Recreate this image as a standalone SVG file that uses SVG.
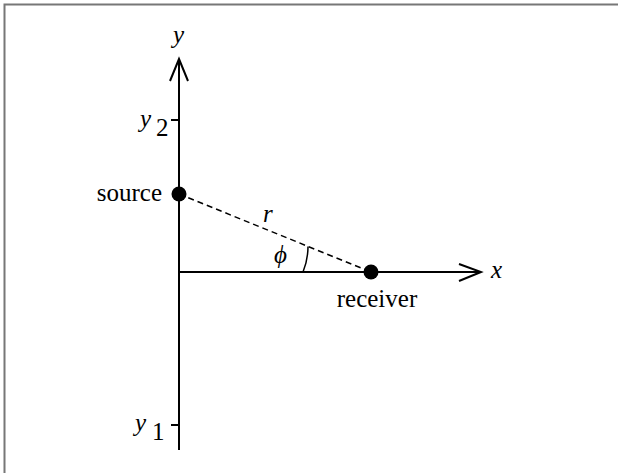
<svg xmlns="http://www.w3.org/2000/svg" width="618" height="473" viewBox="0 0 618 473">
<style>
.ax{stroke:#000;stroke-width:2;fill:none}
.t{font-family:"Liberation Serif","Times New Roman",serif;font-size:25px;fill:#000}
.i{font-style:italic}
</style>
<rect width="618" height="473" fill="#fff"/>
<path d="M4.5,473 V4.5 H618" stroke="#777" stroke-width="2" fill="none"/>
<g id="connectors">
<line class="ax" x1="179" y1="450" x2="179" y2="59"/>
<path class="ax" d="M170,81 L179,59 L188,81"/>
<line class="ax" x1="179" y1="272" x2="481" y2="272"/>
<path class="ax" d="M459,264 L481,272 L459,281"/>
<line class="ax" x1="171" y1="120" x2="179" y2="120"/>
<line class="ax" x1="171" y1="425" x2="179" y2="425"/>
<line x1="179" y1="194" x2="371" y2="272" stroke="#000" stroke-width="1.5" stroke-dasharray="6,4"/>
<path d="M308,246.5 A68,68 0 0 1 303,272" stroke="#000" stroke-width="1.5" fill="none"/>
</g>
<g id="source"><circle cx="179" cy="194" r="7.5"/><text class="t" x="162" y="201" text-anchor="end">source</text></g>
<g id="receiver"><circle cx="371" cy="272" r="7.5"/><text class="t" x="377" y="307" text-anchor="middle">receiver</text></g>
<g id="labels">
<text class="t i" x="173" y="43">y</text>
<text class="t i" x="491" y="278">x</text>
<text class="t i" x="140" y="127">y</text><text class="t" x="156" y="136">2</text>
<text class="t i" x="135" y="431">y</text><text class="t" x="152" y="440">1</text>
<text class="t i" x="263" y="222">r</text>
<text class="t i" x="274" y="263">ϕ</text>
</g>
</svg>
